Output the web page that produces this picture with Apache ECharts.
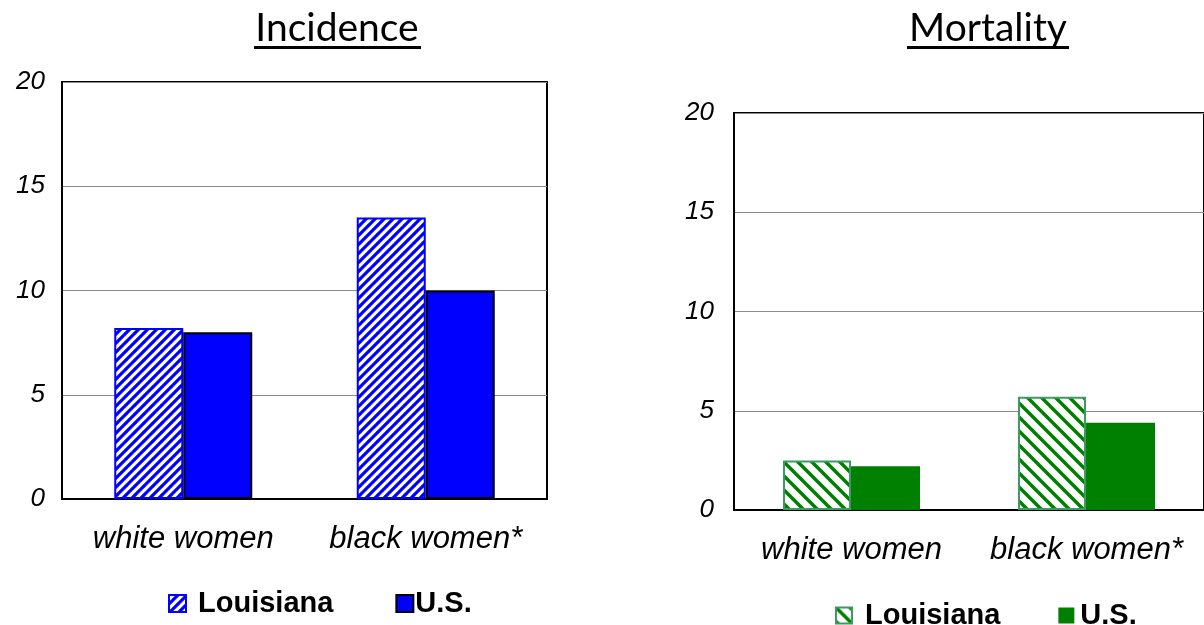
<!DOCTYPE html>
<html>
<head>
<meta charset="utf-8">
<script src="https://cdn.jsdelivr.net/npm/echarts@6/dist/echarts.min.js"></script>
<style>
  html, body { margin: 0; padding: 0; background: #fff; }
  #chart { width: 1204px; height: 625px; }
</style>
</head>
<body>
<div id="chart"></div>
<script>
// Rates per 100,000 women
const categories = ['white women', 'black women*'];
const yTicks = [0, 5, 10, 15, 20];
const incidenceLouisiana = [8.2, 13.5];
const incidenceUS = [8.0, 10.0];
const mortalityLouisiana = [2.5, 5.7];
const mortalityUS = [2.2, 4.4];

// Diagonal hatch tiles for the Louisiana bars
function hatch(size, lineWidth, stroke, direction) {
  const c = document.createElement('canvas');
  c.width = size; c.height = size;
  const g = c.getContext('2d');
  g.fillStyle = '#fff';
  g.fillRect(0, 0, size, size);
  g.strokeStyle = stroke;
  g.lineWidth = lineWidth;
  g.beginPath();
  for (let k = -1; k <= 1; k++) {
    const o = k * size;
    if (direction === 'up') {
      g.moveTo(o - 1, size + 1); g.lineTo(o + size + 1, -1);
    } else {
      g.moveTo(o - 1, -1); g.lineTo(o + size + 1, size + 1);
    }
  }
  g.stroke();
  return { image: c, repeat: 'repeat' };
}

const blueHatch = hatch(9, 3.2, '#0000ff', 'up');
const greenHatch = hatch(14, 3.5, '#008000', 'down');

const FONT = '"Liberation Sans", Arial, sans-serif';
const TITLE_FONT = 'Lato, "Open Sans", sans-serif';

const legendNames = {
  incLA: 'Louisiana', incUS: 'U.S.',
  morLA: 'Louisiana', morUS: 'U.S.'
};

function yAxis(gridIndex, margin) {
  return {
    type: 'value', gridIndex, min: 0, max: 20, interval: 5,
    axisLine: { show: true, lineStyle: { color: '#000', width: 2 } },
    axisTick: { show: false },
    splitLine: { show: true, lineStyle: { color: '#8c8c8c', width: 1 } },
    axisLabel: {
      margin, fontFamily: FONT, fontSize: 26, fontStyle: 'italic', color: '#000',
      formatter: v => (yTicks.indexOf(v) >= 0 ? String(v) : '')
    }
  };
}

function xAxis(gridIndex) {
  return {
    type: 'category', gridIndex, data: categories,
    axisLine: { show: true, lineStyle: { color: '#000', width: 2 } },
    axisTick: { show: false },
    axisLabel: { interval: 0, margin: 25, fontFamily: FONT, fontSize: 31, fontStyle: 'italic', color: '#000' }
  };
}

const legendText = { fontFamily: FONT, fontSize: 29, fontWeight: 'bold', color: '#000' };
const titleStyle = { font: 'normal 39px ' + TITLE_FONT, fill: '#000', textAlign: 'center', textVerticalAlign: 'bottom' };

const option = {
  backgroundColor: '#fff',
  animation: false,
  graphic: [
    { type: 'text', x: 337, y: 48, style: Object.assign({ text: 'Incidence' }, titleStyle) },
    { type: 'text', x: 988, y: 48, style: Object.assign({ text: 'Mortality' }, titleStyle) },
    { type: 'line', shape: { x1: 254, y1: 47.5, x2: 421, y2: 47.5 }, style: { stroke: '#000', lineWidth: 3 } },
    { type: 'line', shape: { x1: 907, y1: 47.5, x2: 1069, y2: 47.5 }, style: { stroke: '#000', lineWidth: 3 } }
  ],
  grid: [
    { left: 62, top: 82, width: 485, height: 417, show: true, borderColor: '#000', borderWidth: 2, backgroundColor: '#fff' },
    { left: 734, top: 113, width: 476, height: 397, show: true, borderColor: '#000', borderWidth: 2, backgroundColor: '#fff' }
  ],
  xAxis: [xAxis(0), xAxis(1)],
  yAxis: [yAxis(0, 17), yAxis(1, 20)],
  legend: [
    {
      left: 163, top: 584, orient: 'horizontal', itemWidth: 17, itemHeight: 17, itemGap: 62,
      icon: 'rect', selectedMode: false,
      formatter: n => legendNames[n],
      textStyle: legendText,
      data: [
        { name: 'incLA', textStyle: { padding: [0, 0, 0, 7] } },
        { name: 'incUS', textStyle: { padding: [0, 0, 0, -3] } }
      ]
    },
    {
      left: 830, top: 596, orient: 'horizontal', itemWidth: 16, itemHeight: 16, itemGap: 58,
      icon: 'rect', selectedMode: false,
      formatter: n => legendNames[n],
      textStyle: legendText,
      data: [
        { name: 'morLA', textStyle: { padding: [0, 0, 0, 8] } },
        { name: 'morUS', textStyle: { padding: [0, 0, 0, 1] } }
      ]
    }
  ],
  series: [
    { name: 'incLA', type: 'bar', xAxisIndex: 0, yAxisIndex: 0, data: incidenceLouisiana,
      barWidth: 69, barGap: '0%',
      itemStyle: { color: blueHatch, borderColor: '#0000ff', borderWidth: 2 } },
    { name: 'incUS', type: 'bar', xAxisIndex: 0, yAxisIndex: 0, data: incidenceUS,
      barWidth: 69, barGap: '0%',
      itemStyle: { color: '#0000ff', borderColor: '#000', borderWidth: 2 } },
    { name: 'morLA', type: 'bar', xAxisIndex: 1, yAxisIndex: 1, data: mortalityLouisiana,
      barWidth: 68, barGap: '0%',
      itemStyle: { color: greenHatch, borderColor: '#3d9a63', borderWidth: 2 } },
    { name: 'morUS', type: 'bar', xAxisIndex: 1, yAxisIndex: 1, data: mortalityUS,
      barWidth: 69, barGap: '0%',
      itemStyle: { color: '#008000' } }
  ]
};

const chart = echarts.init(document.getElementById('chart'), null, { renderer: 'canvas' });
chart.setOption(option);
</script>
</body>
</html>
